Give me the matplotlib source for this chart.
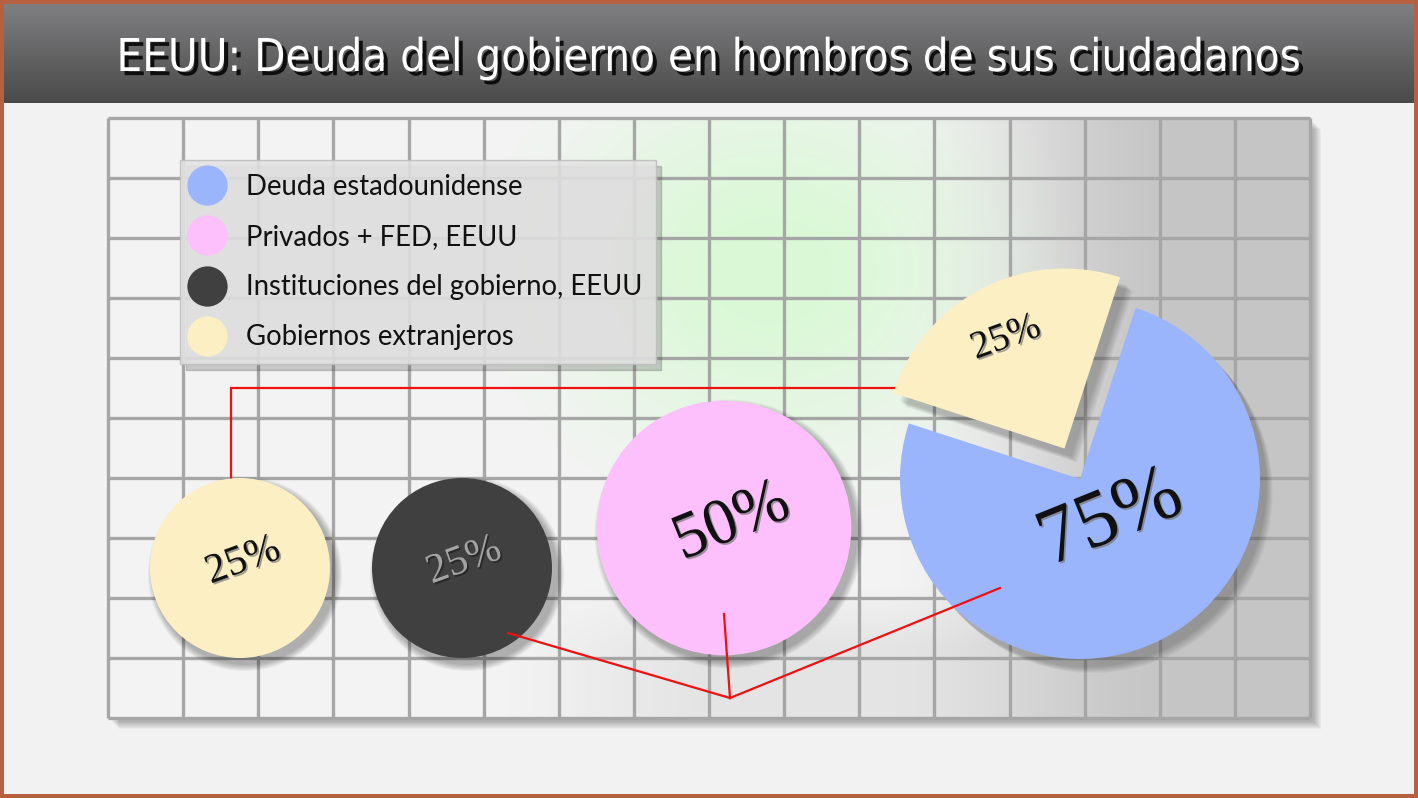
import os
import numpy as np
import matplotlib
matplotlib.use("Agg")
import matplotlib.pyplot as plt
import matplotlib.patches as mpatches
import matplotlib.patheffects as pe
from matplotlib.lines import Line2D
from matplotlib import font_manager as fm

# ---------------- data ----------------
title = "EEUU: Deuda del gobierno en hombros de sus ciudadanos"
categories = ["Deuda estadounidense", "Privados + FED, EEUU",
              "Instituciones del gobierno, EEUU", "Gobiernos extranjeros"]
shares = [75, 50, 25, 25]          # percent of total US debt
colors = ["#9bb5fd", "#fdc0fc", "#404040", "#fdefc4"]
pie_values = [shares[3], shares[0]]  # foreign (exploded) vs domestic
pie_colors = [colors[3], colors[0]]

# ---------------- fonts ----------------
files = {os.path.basename(f.fname): f.fname for f in fm.fontManager.ttflist}

def pick(cands):
    for c in cands:
        if c in files:
            return files[c]
    return None

cond_file = pick(["NotoSans-ExtraCondensed.ttf", "NotoSans-Condensed.ttf",
                  "NotoSans-SemiCondensed.ttf", "DejaVuSansCondensed.ttf",
                  "LiberationSansNarrow-Regular.ttf", "RobotoCondensed-Regular.ttf",
                  "Roboto_Condensed-Regular.ttf", "OpenSans_Condensed-Regular.ttf",
                  "OpenSans-CondensedRegular.ttf"])
if cond_file is None:
    bad = ("Bold", "Italic", "Oblique", "Light", "Thin", "Black", "Medium", "Semi", "Extra")
    for b, p in files.items():
        if ("Condensed" in b or "Narrow" in b) and not any(x in b for x in bad):
            cond_file = p
            break
title_fp = fm.FontProperties(fname=cond_file) if cond_file else fm.FontProperties(family="DejaVu Sans")

serif_file = pick(["LiberationSerif-Regular.ttf", "DejaVuSerif.ttf"])
if serif_file is None:
    for fam in ("Liberation Serif", "DejaVu Serif"):
        for f in fm.fontManager.ttflist:
            if f.name == fam and f.style == "normal" and f.weight in (400, "normal", "regular"):
                serif_file = f.fname
                break
        if serif_file:
            break
serif_fp = fm.FontProperties(fname=serif_file) if serif_file else fm.FontProperties(family="serif")

# ---------------- layout ----------------
W, H = 1418, 798
def Y(py):
    return H - py

fig = plt.figure(figsize=(W / 100, H / 100), dpi=100)
fig.patch.set_facecolor("#b6603f")
ax = fig.add_axes([0, 0, 1, 1])
ax.set_xlim(0, W)
ax.set_ylim(0, H)
ax.axis("off")

# panel
ax.add_patch(mpatches.Rectangle((4, 4), W - 8, Y(103) - 4, facecolor="#f2f2f2",
                                edgecolor="none", zorder=0))
# title bar gradient
grad = np.linspace(0, 1, 100)[:, None]
top = np.array([0.50, 0.50, 0.51])
bot = np.array([0.29, 0.29, 0.29])
img = top[None, None, :] * (1 - grad[..., None]) + bot[None, None, :] * grad[..., None]
img = np.repeat(img, 2, axis=1)
ax.imshow(img, extent=(4, W - 4, Y(103), Y(4)), origin="upper", aspect="auto", zorder=0)
tfp = title_fp.copy()
tfp.set_size(45)
ttl = ax.text(W / 2, Y(71), title, ha="center", va="baseline", color="white",
              fontproperties=tfp,
              path_effects=[pe.SimplePatchShadow(offset=(3, -3), shadow_rgbFace="black", alpha=0.85),
                            pe.Normal()], zorder=5)
renderer = fig.canvas.get_renderer()
bw = ttl.get_window_extent(renderer).width
tfp.set_size(min(50, 45 * 1185.0 / bw))
ttl.set_fontproperties(tfp)

# board
bx0, bx1, by0, by1 = 108, 1310, 118, 718
for k in range(8):
    ax.add_patch(mpatches.Rectangle((bx0 + 4 + k, Y(by1) - 4 - k), bx1 - bx0, by1 - by0,
                                    facecolor="black", alpha=0.035, edgecolor="none", zorder=1))
xs = np.arange(bx0, bx1)
ys = np.arange(by0, by1)
XX, YY = np.meshgrid(xs, ys)
t = np.clip((XX - 880) / 300.0, 0, 1)
t = t * t * (3 - 2 * t)
base = 0.955 * (1 - t) + 0.775 * t
bottom = np.clip((YY - 585) / 60.0, 0, 1) * np.clip((XX - 500) / 200.0, 0, 1)
base = base - 0.06 * bottom * (1 - t)
board = np.stack([base, base, base], axis=-1)
g = 1.25 * np.exp(-((XX - 770) / 230.0) ** 2 - ((YY - 270) / 200.0) ** 2) - 0.2
g = np.clip(g, 0, 1)[..., None]
green = np.array([0.855, 0.975, 0.84])
board = board * (1 - g) + green * g
ax.imshow(board, extent=(bx0, bx1, Y(by1), Y(by0)), origin="upper", aspect="auto", zorder=1)
ax.vlines(np.linspace(bx0, bx1, 17), Y(by1), Y(by0), color="#a6a6a6", lw=2.4, zorder=2)
ax.hlines(np.linspace(Y(by1), Y(by0), 11), bx0, bx1, color="#a6a6a6", lw=2.4, zorder=2)

# connectors (red)
red = "#f01010"
ax.plot([231, 231, 940], [Y(497), Y(388), Y(388)], color=red, lw=1.6, zorder=3,
        solid_joinstyle="miter")
hub = (730, Y(698))
for p in [(508, Y(633)), (724, Y(614)), (1000, Y(588))]:
    ax.plot([p[0], hub[0]], [p[1], hub[1]], color=red, lw=1.6, zorder=6)

# circles (radius proportional to sqrt(share))
R_UNIT = 90.0
def radius(v):
    return R_UNIT * np.sqrt(v / 25.0)

circle_items = [  # (category index, center)
    (3, (240, Y(568))),
    (2, (462, Y(568))),
    (1, (724, Y(528))),
]
for idx, (cx, cy) in circle_items:
    r = radius(shares[idx])
    for k in range(6):
        ax.add_patch(mpatches.Circle((cx + 5, cy - 6), r + 1 + k * 1.2, facecolor="black",
                                     alpha=0.05, edgecolor="none", zorder=3))
    ax.add_patch(mpatches.Circle((cx, cy), r, facecolor=colors[idx], edgecolor="none", zorder=4))

# big pie (total debt split foreign / domestic)
pr = radius(sum(pie_values))
pc = (1080, Y(479))
wedges, _ = ax.pie(pie_values, colors=pie_colors, startangle=72, counterclock=True,
                   radius=pr, center=pc, explode=[0.19 * pr, 0],
                   wedgeprops=dict(linewidth=0, zorder=4))
for w in wedges:
    for k in range(5):
        s = mpatches.Shadow(w, 5 + k, -6 - k, facecolor="black", alpha=0.05)
        s.set_zorder(3)
        ax.add_patch(s)
ax.set_xlim(0, W)
ax.set_ylim(0, H)
ax.set_aspect("auto")
ax.axis("off")

# labels
emb_dark = [pe.SimplePatchShadow(offset=(1.2, -1.2), shadow_rgbFace="#777777", alpha=0.7), pe.Normal()]
emb_light = [pe.SimplePatchShadow(offset=(1.2, -1.2), shadow_rgbFace="#222222", alpha=0.8), pe.Normal()]
labels = [
    (f"{shares[3]}%", (243, Y(561)), 30, "#111111", emb_dark, 20),
    (f"{shares[2]}%", (464, Y(561)), 30, "#a3a3a3", emb_light, 20),
    (f"{shares[1]}%", (732, Y(523)), 47, "#111111", emb_dark, 22),
    (f"{pie_values[1]}%", (1111, Y(520)), 58, "#111111", emb_dark, 22),
    (f"{pie_values[0]}%", (1006, Y(338)), 28, "#111111", emb_dark, 20),
]
for txt, (x, y), fs, col, eff, rot in labels:
    fp = serif_fp.copy()
    fp.set_size(fs)
    ax.text(x, y, txt, ha="center", va="center", rotation=rot, rotation_mode="anchor",
            fontproperties=fp, color=col, path_effects=eff, zorder=7)

# legend
handles = [Line2D([], [], ls="", marker="o", markersize=29, markerfacecolor=c,
                  markeredgewidth=0) for c in colors]
leg = ax.legend(handles, categories, loc="upper left", bbox_to_anchor=(180, Y(160)),
                bbox_transform=ax.transData, borderaxespad=0, borderpad=0.5,
                labelspacing=0.88, handlelength=0.94, handletextpad=0.95,
                prop={"family": ["Lato", "DejaVu Sans"], "size": 19.8},
                frameon=True, fancybox=False, facecolor="#e3e3e3", edgecolor="#bdbdbd",
                framealpha=0.88, shadow={"ox": 4, "oy": -4, "alpha": 0.25})
leg.set_zorder(8)
for tx in leg.get_texts():
    tx.set_color("#111111")

fig.savefig("out.png", dpi=100, facecolor=fig.get_facecolor())
